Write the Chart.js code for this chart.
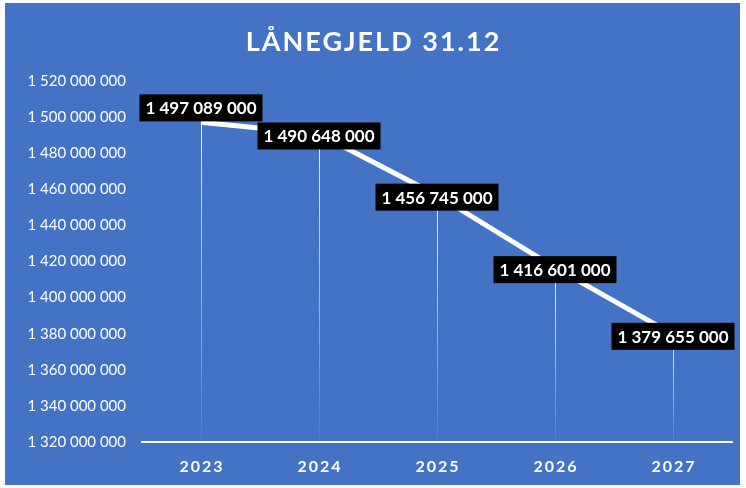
<!DOCTYPE html>
<html>
<head>
<meta charset="utf-8">
<script src="https://cdn.jsdelivr.net/npm/chart.js@4/dist/chart.umd.min.js"></script>
<style>
  body { margin: 0; background: #fff; }
  #wrap { position: absolute; left: 5px; top: 3px; width: 735px; height: 482px; background: #4472c4; }
</style>
</head>
<body>
<div id="wrap"><canvas id="chart"></canvas></div>
<script>
var title = 'LÅNEGJELD 31.12';
var years = ['2023', '2024', '2025', '2026', '2027'];
var debt = [1497089000, 1490648000, 1456745000, 1416601000, 1379655000];
var yMin = 1320000000, yMax = 1520000000, yStep = 20000000;

function fmt(v) {
  return String(Math.round(v)).replace(/\B(?=(\d{3})+(?!\d))/g, ' ');
}

// title, year labels, drop lines and black value boxes
var decor = {
  id: 'decor',
  beforeDatasetsDraw: function(chart) {
    var ctx = chart.ctx;
    var meta = chart.getDatasetMeta(0);
    var bottom = chart.chartArea.bottom;
    ctx.save();
    meta.data.forEach(function(p) {
      var g = ctx.createLinearGradient(0, p.y, 0, bottom);
      g.addColorStop(0, 'rgba(255,255,255,0.95)');
      g.addColorStop(1, 'rgba(255,255,255,0.05)');
      ctx.strokeStyle = g;
      ctx.lineWidth = 1;
      ctx.beginPath();
      ctx.moveTo(Math.round(p.x) + 0.5, p.y);
      ctx.lineTo(Math.round(p.x) + 0.5, bottom);
      ctx.stroke();
    });
    ctx.restore();
  },
  afterDatasetsDraw: function(chart) {
    var ctx = chart.ctx;
    var meta = chart.getDatasetMeta(0);
    var xs = chart.scales.x;
    ctx.save();
    ctx.textAlign = 'center';
    ctx.textBaseline = 'middle';
    ctx.font = 'bold 17px Lato';
    meta.data.forEach(function(p, i) {
      var txt = fmt(debt[i]);
      var w = ctx.measureText(txt).width + 12;
      var h = 27;
      var cx = p.x, cy = p.y + 2;
      if (i === 0) cy = p.y - h / 2 - 1;
      ctx.fillStyle = '#000';
      ctx.fillRect(cx - w / 2, cy - h / 2, w, h);
      ctx.fillStyle = '#fff';
      ctx.fillText(txt, cx, cy + 1);
    });
    ctx.fillStyle = '#fff';
    ctx.font = 'bold 16px Lato';
    ctx.letterSpacing = '2px';
    years.forEach(function(y, i) {
      ctx.fillText(y, xs.getPixelForValue(i) + 1, chart.chartArea.bottom + 25);
    });
    ctx.font = 'bold 27px Lato';
    ctx.letterSpacing = '2px';
    ctx.fillText(title, chart.width / 2 + 1, 39);
    ctx.restore();
  }
};

new Chart(document.getElementById('chart'), {
  type: 'line',
  data: {
    labels: years,
    datasets: [{
      data: debt,
      borderColor: '#fff',
      borderWidth: 5,
      pointRadius: 0,
      tension: 0,
      fill: false
    }]
  },
  options: {
    responsive: true,
    maintainAspectRatio: false,
    animation: false,
    layout: { padding: { top: 78, right: 8, left: 0, bottom: 0 } },
    plugins: {
      legend: { display: false },
      title: { display: false },
      tooltip: { enabled: false }
    },
    scales: {
      x: {
        offset: true,
        grid: { display: false, drawTicks: false },
        border: { color: '#fff', width: 2 },
        ticks: { display: false },
        afterFit: function(s) { s.height = 43; }
      },
      y: {
        min: yMin,
        max: yMax,
        grid: { display: false, drawTicks: false },
        border: { display: false },
        ticks: {
          stepSize: yStep,
          color: '#fff',
          font: { family: 'Lato', size: 15 },
          padding: 16,
          callback: function(v) { return fmt(v); }
        },
        afterFit: function(s) { s.width = 137; }
      }
    }
  },
  plugins: [decor]
});
</script>
</body>
</html>
